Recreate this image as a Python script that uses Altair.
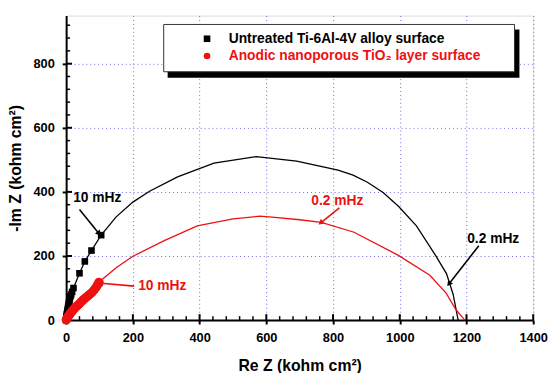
import math
import altair as alt
import pandas as pd

# ---------------- data ----------------
# Untreated alloy: measured points (square markers, high-frequency part)
untreated_mark_x = [0.3, 0.6, 1, 1.5, 2, 3, 4, 5, 6, 7, 8, 10, 11, 13, 15, 18, 22, 40, 56, 76, 105]
untreated_mark_y = [2, 5, 9, 13, 18, 23, 29, 35, 41, 47, 53, 60, 67, 74, 80, 88, 100, 146, 183, 217, 265]
# Untreated alloy: continuation of the curve (line)
untreated_line_x = [105, 150, 200, 250, 334, 443, 570, 691, 815, 860, 903, 950, 996, 1050, 1109, 1140, 1160, 1175]
untreated_line_y = [265, 322, 368, 402, 447, 490, 510, 496, 468, 452, 430, 398, 355, 294, 199, 145, 80, 0]

# Anodic TiO2 layer: measured points (circle markers)
anodic_mark_x = [0, 1, 2, 3, 5, 6, 8, 10, 12, 14, 17, 19, 22, 25, 28, 31, 35, 38, 42, 45, 49,
                 52, 56, 60, 64, 68, 73, 78, 82, 86, 90, 93, 96, 98]
anodic_mark_y = [0, 2, 4, 6, 8, 11, 14, 17, 20, 23, 26, 29, 32, 36, 39, 43, 46, 49, 53, 57, 60,
                 64, 67, 71, 74, 78, 82, 87, 92, 97, 102, 108, 113, 118]
# Anodic TiO2 layer: continuation of the curve (line)
anodic_line_x = [98, 150, 200, 294, 393, 500, 580, 617, 700, 765, 863, 996, 1090, 1139, 1168, 1195]
anodic_line_y = [118, 163, 199, 248, 294, 316, 324, 321, 313, 305, 274, 202, 140, 84, 33, 0]

series_names = ["Untreated Ti-6Al-4V alloy surface", "Anodic nanoporous TiO\u2082 layer surface"]
series_colors = ["#000000", "#ee1111"]

# frequency annotations
ann_text = ["10 mHz", "10 mHz", "0.2 mHz", "0.2 mHz"]
ann_color = ["#000000", "#ee1111", "#ee1111", "#000000"]
ann_tx = [21, 216, 735, 1202]
ann_ty = [382, 106, 371, 253]
arr_x1 = [40, 204, 819, 1237]
arr_y1 = [345, 106, 350, 232]
arr_x2 = [97, 106, 765, 1149]
arr_y2 = [272, 115, 305, 115]

x_ticks = [0, 200, 400, 600, 800, 1000, 1200, 1400]
y_ticks = [0, 200, 400, 600, 800]
x_minor = [v for v in range(0, 1401, 40) if v % 200 != 0]
y_minor = [v for v in range(0, 950, 40) if v % 200 != 0]

# ---------------- layout ----------------
W, H = 474, 309
XD, YD = [0, 1400], [0, 950]
FONT = "Liberation Sans"
GRID = "#6f6fd8"

sx = W / (XD[1] - XD[0])
sy = H / (YD[1] - YD[0])

xs = alt.Scale(domain=XD, nice=False, zero=False)
ys = alt.Scale(domain=YD, nice=False, zero=False)

xaxis = alt.Axis(values=x_ticks, format="d", title="Re Z (kohm cm\u00b2)", grid=True, gridColor=GRID,
                 gridDash=[1, 3], gridWidth=1, domainColor="black", domainWidth=2,
                 tickColor="black", tickWidth=2, tickSize=4, labelPadding=8,
                 labelFont=FONT, labelFontSize=13, labelFontWeight="bold", labelColor="black",
                 titleFont=FONT, titleFontSize=16, titleFontWeight="bold", titleColor="black",
                 titlePadding=13, labelFlush=False)
yaxis = alt.Axis(values=y_ticks, format="d", title="-Im Z (kohm cm\u00b2)", grid=True, gridColor=GRID,
                 gridDash=[1, 3], gridWidth=1, domainColor="black", domainWidth=2,
                 tickColor="black", tickWidth=2, tickSize=4, labelPadding=8,
                 labelFont=FONT, labelFontSize=13, labelFontWeight="bold", labelColor="black",
                 titleFont=FONT, titleFontSize=16, titleFontWeight="bold", titleColor="black",
                 titlePadding=10, labelFlush=False)

df_um = pd.DataFrame({"x": untreated_mark_x, "y": untreated_mark_y})
df_ul = pd.DataFrame({"x": untreated_mark_x + untreated_line_x[1:],
                      "y": untreated_mark_y + untreated_line_y[1:]})
df_ul["o"] = range(len(df_ul))
df_am = pd.DataFrame({"x": anodic_mark_x, "y": anodic_mark_y})
df_al = pd.DataFrame({"x": anodic_mark_x + anodic_line_x[1:],
                      "y": anodic_mark_y + anodic_line_y[1:]})
df_al["o"] = range(len(df_al))

base_grid = alt.Chart(pd.DataFrame({"x": [0], "y": [0]})).mark_point(opacity=0).encode(
    x=alt.X("x:Q", scale=xs, axis=xaxis),
    y=alt.Y("y:Q", scale=ys, axis=yaxis),
)

X = lambda f="x": alt.X(f"{f}:Q", scale=xs)
Y = lambda f="y": alt.Y(f"{f}:Q", scale=ys)

ul = alt.Chart(df_ul).mark_line(color=series_colors[0], strokeWidth=1.3).encode(x=X(), y=Y(), order="o:Q")
al = alt.Chart(df_al).mark_line(color=series_colors[1], strokeWidth=1.3).encode(x=X(), y=Y(), order="o:Q")
um = alt.Chart(df_um).mark_point(shape="square", filled=True, size=45, color=series_colors[0], opacity=1).encode(x=X(), y=Y())
am = alt.Chart(df_am).mark_point(shape="circle", filled=True, size=85, color=series_colors[1], opacity=1).encode(x=X(), y=Y())

# minor / inner ticks
x_in = alt.Chart(pd.DataFrame({"v": x_minor})).mark_rule(color="black", strokeWidth=1.5).encode(
    x=alt.X("v:Q", scale=xs), y=alt.value(H), y2=alt.value(H - 4))
x_in_major = alt.Chart(pd.DataFrame({"v": x_ticks})).mark_rule(color="black", strokeWidth=2).encode(
    x=alt.X("v:Q", scale=xs), y=alt.value(H), y2=alt.value(H - 6))
y_in = alt.Chart(pd.DataFrame({"v": y_minor})).mark_rule(color="black", strokeWidth=1.5).encode(
    y=alt.Y("v:Q", scale=ys), x=alt.value(0), x2=alt.value(4))
y_in_major = alt.Chart(pd.DataFrame({"v": y_ticks})).mark_rule(color="black", strokeWidth=2).encode(
    y=alt.Y("v:Q", scale=ys), x=alt.value(0), x2=alt.value(6))

# annotations
df_ann = pd.DataFrame({"t": ann_text, "c": ann_color, "x": ann_tx, "y": ann_ty})
ann = alt.Chart(df_ann).mark_text(font=FONT, fontSize=14, fontWeight="bold", align="left",
                                   baseline="middle").encode(
    x=X(), y=Y(), text="t:N", color=alt.Color("c:N", scale=None))
angles = []
for x1, y1, x2, y2 in zip(arr_x1, arr_y1, arr_x2, arr_y2):
    dx = (x2 - x1) * sx
    dy = -(y2 - y1) * sy
    angles.append(math.degrees(math.atan2(dx, -dy)) % 360)
df_arr = pd.DataFrame({"x1": arr_x1, "y1": arr_y1, "x2": arr_x2, "y2": arr_y2,
                       "c": ann_color, "a": angles})
arr_line = alt.Chart(df_arr).mark_rule(strokeWidth=1.6).encode(
    x=X("x1"), y=Y("y1"), x2="x2:Q", y2="y2:Q", color=alt.Color("c:N", scale=None))
arr_head = alt.Chart(df_arr).mark_point(shape="triangle", filled=True, size=40, opacity=1).encode(
    x=X("x2"), y=Y("y2"), angle=alt.Angle("a:Q", scale=None), color=alt.Color("c:N", scale=None))

# legend (box with drop shadow)
one = pd.DataFrame({"k": [0]})
lg_shadow = alt.Chart(one).mark_rect(color="black").encode(
    x=alt.value(103), x2=alt.value(460), y=alt.value(14), y2=alt.value(63))
lg_box = alt.Chart(one).mark_rect(fill="white", stroke="#333333", strokeWidth=1).encode(
    x=alt.value(99), x2=alt.value(455), y=alt.value(9), y2=alt.value(57))
df_leg = pd.DataFrame({"name": series_names, "c": series_colors,
                       "shape": ["square", "circle"], "row": [23.5, 41]})
lg_sym = alt.Chart(df_leg).mark_point(filled=True, size=45, opacity=1).encode(
    x=alt.value(143), y=alt.Y("row:Q", scale=None),
    shape=alt.Shape("shape:N", scale=None), color=alt.Color("c:N", scale=None))
lg_txt = alt.Chart(df_leg).mark_text(font=FONT, fontSize=14, fontWeight="bold", align="left",
                                     baseline="middle").encode(
    x=alt.value(165), y=alt.Y("row:Q", scale=None), text="name:N", color=alt.Color("c:N", scale=None))

chart = alt.layer(
    base_grid, x_in, x_in_major, y_in, y_in_major,
    ul, al, um, am, arr_line, arr_head, ann,
    lg_shadow, lg_box, lg_sym, lg_txt,
).properties(
    width=W, height=H,
    autosize=alt.AutoSizeParams(type="none"),
    padding={"left": 59, "top": 5, "right": 15, "bottom": 51},
).configure_view(stroke="#999999", strokeWidth=1).configure(background="white")

chart.save("out.html", embed_options={"renderer": "svg", "actions": False})
